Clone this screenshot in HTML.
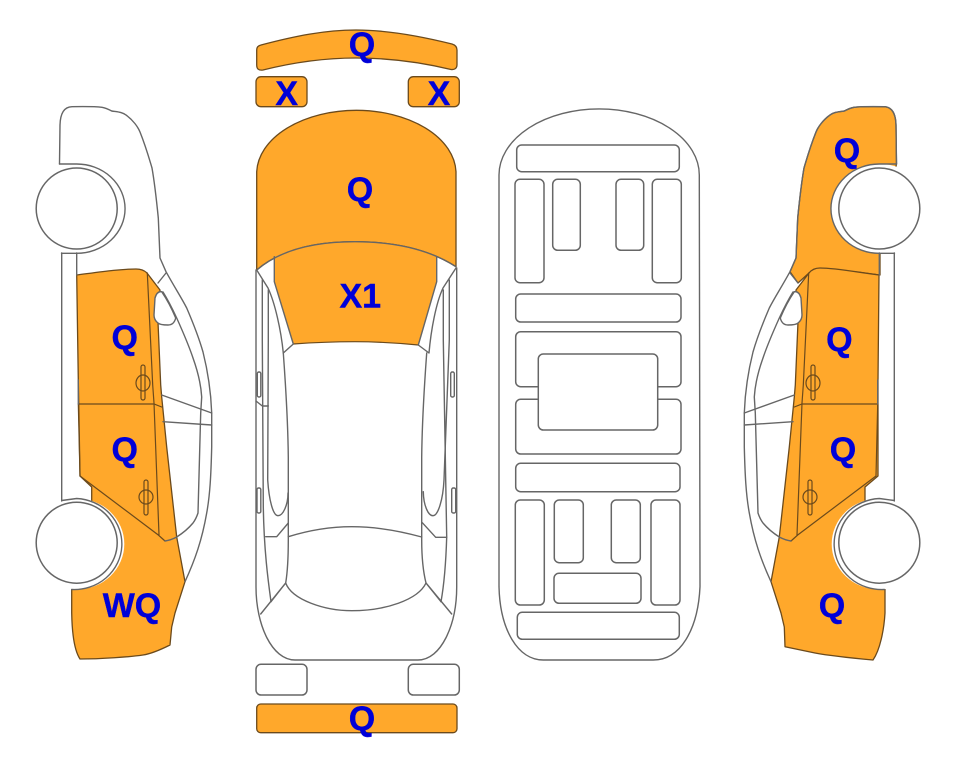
<!DOCTYPE html>
<html>
<head>
<meta charset="utf-8">
<style>
html,body{margin:0;padding:0;background:#fff;width:963px;height:768px;overflow:hidden}
svg{display:block}
.l{fill:none;stroke:#666;stroke-width:1.4;stroke-linejoin:round;stroke-linecap:round}
.o{fill:#ffa82b;stroke:#6b4a1c;stroke-width:1.3;stroke-linejoin:round}
.d{fill:none;stroke:#6b4a1c;stroke-width:1.2;stroke-linecap:round}
.r{fill:#fff;stroke:#666;stroke-width:1.5}
.w{fill:#fff;stroke:none}
text{font-family:"Liberation Sans",sans-serif;font-weight:bold;font-size:34px;fill:#0000d8;stroke:#0000d8;stroke-width:.4;text-anchor:middle}
</style>
</head>
<body>
<svg width="963" height="768" viewBox="0 0 963 768" xmlns="http://www.w3.org/2000/svg">
<defs>
<g id="doorlines">
  <path class="d" d="M147.3,273 L152.7,385 L154,403 L159,535"/>
  <path class="d" d="M79,404 H154 L161.7,407"/>
  <rect class="d" x="141" y="365" width="4" height="35" rx="2"/>
  <ellipse class="d" cx="143" cy="383" rx="7" ry="8"/>
  <rect class="d" x="144" y="480" width="4" height="35" rx="2"/>
  <ellipse class="d" cx="146" cy="497" rx="7" ry="7"/>
  <path class="d" d="M80,476 L158.3,535 L165,541"/>
  <path class="d" d="M78.3,404 L80,476"/>
</g>
<g id="carlines">
  <path class="l" d="M59.5,164 L60,125 Q60.5,107 72,106.7 C85,106.5 95,106.5 102,107.3 Q106,108 111.7,111 C118,112 122,112 126,115 C133,120 138,127 140,132 C146,147 149,158 152,168 C155,185 157,205 158.3,218 L160,258 L166,271.7 C175,288 181,297 186.7,308 C194,325 199,338 203,352 C208,372 211,393 211.7,413 L211.7,447 C211,475 210,495 206.7,513 C202,540 195,560 185,581.7"/>
  <path class="l" d="M158,283 L166,273"/>
  <path class="l" d="M163,292 C168,300 172,308 176.7,318 C183,332 189,346 193,358 C198,372 201,385 201.7,397 L200.7,413 L198,513 Q196,519 193,523 C188,529 183,533 176.7,537 C172,539.5 169,540.5 165,541"/>
  <path class="l" d="M161.7,395 L211.7,413 M163,421.7 L211.7,425"/>
  <path class="l" d="M61.7,253 V501 M76.7,253 V275"/>
  <path class="l" d="M78.3,380 V404"/>
  <path class="l" d="M59.5,164 H76.7 A48.3,44.6 0 0 1 76.7,253.3 H61.5"/>
  <path class="l" d="M61.7,500.5 L76.7,498.5 A47.6,45.5 0 0 1 71.7,589.5"/>
</g>
<g id="wheels">
  <circle class="r" cx="76.7" cy="208.5" r="40.5"/>
  <circle class="r" cx="76.7" cy="542.7" r="40.5"/>
</g>
<path id="blob" d="M155,298 Q157,291 161.7,291.7 C166,298 172,309 175.7,318 Q174,325 168,325 Q160,325 158,323 Q154,320 154,315 Z"/>
</defs>

<!-- LEFT CAR -->
<path class="o" d="M76.7,275 C100,272 120,269 136,269 Q143,269 147,273 L160,290 L158,322 L160.7,385 L161.7,397 L166.7,447 L176.7,537 L185,581.7 L175,613 L171.7,627 L170,645 C160,650 150,654 143,655 C130,657 100,659 80,659 C74,650 72,630 71.7,613 L71.7,585 L76,560 L91.7,510 L91.7,487 L80,476 L78.3,380 Z"/>
<ellipse class="w" cx="76.7" cy="544" rx="47.6" ry="45.5"/>
<use href="#blob" fill="#fff" stroke="#666" stroke-width="1.4"/>
<use href="#doorlines"/>
<use href="#carlines"/>
<use href="#wheels"/>

<!-- RIGHT CAR (mirrored) -->
<g transform="matrix(-1 0 0 1 956 0)">
  <path class="o" d="M59.5,164 L60,125 Q60.5,107 72,106.7 C85,106.5 95,106.5 102,107.3 Q106,108 111.7,111 C118,112 122,112 126,115 C133,120 138,127 140,132 C146,147 149,158 152,168 C155,185 157,205 158.3,218 L160,258 L166,271.7 L158,283 L147,273 Q143,269 136,269 C120,269 100,272 76,275 L76,240 Z"/>
  <path class="o" d="M77,275 C100,272 120,268 136,268 Q143,268 147,273 L160,290 L158,322 L160.7,385 L161.7,397 L166.7,447 L176.7,537 L185,581.7 L175,613 L171.7,627 L171,646.7 L141,653 C125,656 105,658 83,660 C76,650 72,630 71,613 L71,585 L76,560 L91,510 L91,487 L78,476 L78,380 Z"/>
  <ellipse class="w" cx="76.7" cy="208.5" rx="48.3" ry="44.6"/>
  <ellipse class="w" cx="76.7" cy="544" rx="47.6" ry="45.5"/>
  <use href="#blob" fill="#fff" stroke="#666" stroke-width="1.4"/>
  <use href="#doorlines"/>
  <use href="#carlines"/>
  <use href="#wheels"/>
</g>

<!-- TOP VIEW -->
<path class="o" d="M256.7,50 Q256.7,46 261,45 C295,36 325,30 356,30 C388,30 420,36 452,44 Q457,45.5 457,50 V65 Q456.7,70 451,69.5 C420,62 388,58 356,58 C325,58 295,62 263,70 Q256.7,71 256.7,65 Z"/>
<rect class="o" x="256" y="76.7" width="51" height="30" rx="5"/>
<rect class="o" x="408.3" y="76.7" width="51" height="30" rx="5"/>
<path class="o" d="M256.7,270 V171.7 A99.7,63.4 0 0 1 456,171.7 V266.7 C430,250 395,241.7 355,241.7 C315,241.7 280,250 256.7,270 Z"/>
<path d="M274.3,256.7 C295,246 325,241.7 355,241.7 C385,241.7 415,246 436.7,256.7 V281.7 L418.3,345 Q385,341.7 355,341.7 Q325,341.7 293.3,344 L274.3,281.7 Z" fill="#ffa82b" stroke="none"/>
<path class="l" d="M256.7,270 C280,250 315,241.7 355,241.7 C395,241.7 430,250 456,266.7"/>
<path class="d" d="M293.3,344 Q325,341.7 355,341.7 Q385,341.7 418.3,345"/>
<path class="l" d="M274.3,256.7 V281.7 L293.3,344 M436.7,256.7 V281.7 L418.3,345"/>

<path class="l" d="M256.7,270 L268,288 C275,303 281,330 283.3,353 L293.3,344"/>
<path class="l" d="M456,268 L443,288 C436,303 431,330 429,353 L418.3,345"/>
<path class="l" d="M256,270 V587 C256,625 272,660 295,660 H418 C441,660 456.7,625 456.7,587 V268"/>
<path class="l" d="M262.3,280 V340 L263.3,507 C264,550 268,580 271,601.7"/>
<path class="l" d="M268.3,290 V340 L267.7,480 C269,500 273,515.7 278,515.7 C283,515.7 288,505 288,493"/>
<path class="l" d="M283.3,353 C286,390 288,430 288.3,457 L288.3,540 C288.3,560 287,575 285.7,583 L260.7,614 M271,601.7 L285.7,583"/>
<path class="l" d="M285.7,583 C292,600 325,610.7 351.7,610.7 C385,610.7 418,600 426,583"/>
<path class="l" d="M288.3,536.7 C310,530 330,526.7 351.7,526.7 C375,526.7 400,531 421.7,537"/>
<path class="l" d="M426.7,353 C424,390 422,430 421.7,457 L421.7,540 C421.7,560 424,575 426,583 L451.7,614 M441,601.7 L426,583"/>
<path class="l" d="M443.3,290 V340 L446.7,537 C446,560 444,585 441,601.7"/>
<path class="l" d="M449.3,280 V340 L444,480 C443,500 438,515.7 433,515.7 C428,515.7 423.5,505 423.3,491.7"/>
<path class="l" d="M265.7,536.7 H276.7 L288.3,523 M422.3,522.7 L435.7,537.3 H446.7"/>
<path class="l" d="M256,401 L262.3,406 H268.3"/>
<rect class="l" x="257.3" y="372" width="3.5" height="25" rx="1.5"/>
<rect class="l" x="257" y="488" width="3.8" height="25" rx="1.5"/>
<rect class="l" x="450.7" y="372" width="3.6" height="25" rx="1.5"/>
<rect class="l" x="451.7" y="488" width="4" height="25" rx="1.5"/>
<rect class="r" x="256" y="664.3" width="51" height="30.7" rx="5"/>
<rect class="r" x="408.3" y="664.3" width="51" height="30.7" rx="5"/>
<rect class="o" x="256.7" y="704" width="200.3" height="28.7" rx="4"/>

<!-- BOTTOM VIEW -->
<path class="l" d="M499,175 A100,66 0 0 1 699.3,175 L700,586.7 C698,630 680,660 653.3,660 H543.3 C518,660 500,630 499,586.7 Z"/>
<g fill="#fff" stroke="#666" stroke-width="1.5">
  <rect x="516.7" y="145" width="162.6" height="26.7" rx="5"/>
  <rect x="515" y="179.3" width="29" height="103.4" rx="5"/>
  <rect x="552.7" y="179.3" width="27.6" height="71" rx="5"/>
  <rect x="616" y="179.3" width="27.7" height="71" rx="5"/>
  <rect x="652.3" y="179.3" width="29" height="103.4" rx="5"/>
  <rect x="515.7" y="294" width="165.3" height="28" rx="5"/>
  <rect x="515.7" y="331.7" width="165.3" height="55" rx="5"/>
  <rect x="515.7" y="399.3" width="165.3" height="54.7" rx="5"/>
  <rect x="538.3" y="354" width="119.4" height="76" rx="5"/>
  <rect x="515.7" y="463.3" width="164.3" height="28.4" rx="5"/>
  <rect x="515.3" y="500" width="29" height="105" rx="5"/>
  <rect x="554.3" y="500" width="29" height="62.7" rx="5"/>
  <rect x="611.3" y="500" width="29" height="62.7" rx="5"/>
  <rect x="651" y="500" width="29" height="105" rx="5"/>
  <rect x="554" y="573.3" width="87" height="30" rx="5"/>
  <rect x="517.3" y="612.3" width="162" height="27" rx="5"/>
</g>

<!-- LABELS -->
<text x="124.7" y="349">Q</text>
<text x="124.7" y="461">Q</text>
<text x="132" y="617">WQ</text>
<text x="362" y="56">Q</text>
<text x="286.7" y="105">X</text>
<text x="439" y="105">X</text>
<text x="360" y="201">Q</text>
<text x="360.3" y="307.5">X1</text>
<text x="362" y="730">Q</text>
<text x="847" y="162">Q</text>
<text x="839.3" y="351">Q</text>
<text x="843" y="461">Q</text>
<text x="832" y="617">Q</text>
</svg>
</body>
</html>
